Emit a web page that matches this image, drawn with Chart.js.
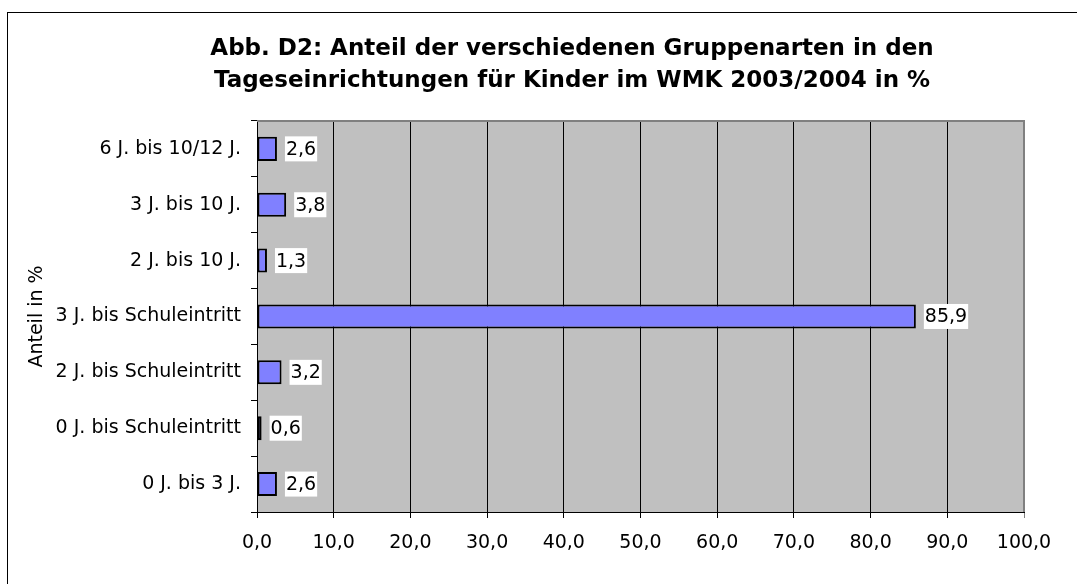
<!DOCTYPE html>
<html>
<head>
<meta charset="utf-8">
<script src="https://cdn.jsdelivr.net/npm/chart.js@4"></script>
<style>
  html, body { margin: 0; padding: 0; background: #fff; overflow: hidden; }
  #wrap { position: relative; width: 1077px; height: 584px; overflow: hidden; }
  #frame { position: absolute; left: 7px; top: 12px; width: 1200px; height: 700px;
           border-left: 1px solid #000; border-top: 1px solid #000; }
  #chart { position: absolute; left: 0; top: 0; }
</style>
</head>
<body>
<div id="wrap">
  <div id="frame"></div>
  <canvas id="chart" width="1144" height="584"></canvas>
</div>
<script>
// Gruppenarten (von oben nach unten wie im Diagramm)
const categories = [
  '6 J. bis 10/12 J.',
  '3 J. bis 10 J.',
  '2 J. bis 10 J.',
  '3 J. bis Schuleintritt',
  '2 J. bis Schuleintritt',
  '0 J. bis Schuleintritt',
  '0 J. bis 3 J.'
];
const shares = [2.6, 3.8, 1.3, 85.9, 3.2, 0.6, 2.6];
const xTicks = [0, 10, 20, 30, 40, 50, 60, 70, 80, 90, 100];

const titleLines = [
  'Abb. D2: Anteil der verschiedenen Gruppenarten in den',
  'Tageseinrichtungen für Kinder im WMK 2003/2004 in %'
];
const axisTitle = 'Anteil in %';

const FONT = 'DejaVu Sans';

function fmt(v) {
  return Number(v).toFixed(1).replace('.', ',');
}

// grauer Hintergrund der Zeichenfläche + Rahmen oben/rechts
const plotBackground = {
  id: 'plotBackground',
  beforeDraw(chart) {
    const { ctx, chartArea: a } = chart;
    ctx.save();
    ctx.fillStyle = '#c0c0c0';
    ctx.fillRect(a.left, a.top, a.right - a.left, a.bottom - a.top);
    ctx.restore();
  },
  afterDraw(chart) {
    const { ctx, chartArea: a } = chart;
    ctx.save();
    ctx.strokeStyle = '#808080';
    ctx.lineWidth = 2;
    ctx.beginPath();
    ctx.moveTo(a.left, a.top);
    ctx.lineTo(a.right, a.top);
    ctx.lineTo(a.right, a.bottom);
    ctx.stroke();
    ctx.restore();
  }
};

// Wertbeschriftungen in weißen Kästchen
const valueLabels = {
  id: 'valueLabels',
  afterDatasetsDraw(chart) {
    const { ctx } = chart;
    const meta = chart.getDatasetMeta(0);
    ctx.save();
    ctx.font = '19px "' + FONT + '"';
    ctx.textBaseline = 'middle';
    meta.data.forEach((bar, i) => {
      const text = fmt(chart.data.datasets[0].data[i]);
      const w = ctx.measureText(text).width;
      const x = bar.x + 8;
      ctx.fillStyle = '#ffffff';
      ctx.fillRect(x, bar.y - 12.5, w + 2, 25);
      ctx.fillStyle = '#000000';
      ctx.fillText(text, x + 1, bar.y + 1);
    });
    ctx.restore();
  }
};

new Chart(document.getElementById('chart'), {
  type: 'bar',
  data: {
    labels: categories,
    datasets: [{
      data: shares,
      backgroundColor: '#8080ff',
      borderColor: '#000000',
      borderWidth: 2,
      borderSkipped: false,
      categoryPercentage: 1,
      barPercentage: 0.43
    }]
  },
  options: {
    indexAxis: 'y',
    responsive: false,
    animation: false,
    layout: { padding: 0 },
    plugins: {
      legend: { display: false },
      tooltip: { enabled: false },
      title: {
        display: true,
        text: titleLines,
        color: '#000000',
        font: { family: FONT, size: 23, weight: 'bold', lineHeight: 1.39 },
        padding: { top: 33, bottom: 24 }
      }
    },
    scales: {
      x: {
        type: 'linear',
        min: 0,
        max: 100,
        afterBuildTicks: s => { s.ticks = xTicks.map(v => ({ value: v })); },
        ticks: {
          color: '#000000',
          padding: 14,
          font: { family: FONT, size: 19 },
          callback: v => fmt(v)
        },
        grid: {
          color: c => (c.tick && c.tick.value === 100 ? '#808080' : '#000000'),
          lineWidth: 1,
          tickLength: 6
        },
        border: { color: '#000000', width: 1 },
        afterFit: s => { s.height = 72; }
      },
      y: {
        ticks: {
          color: '#000000',
          padding: 10,
          font: { family: FONT, size: 19 }
        },
        grid: {
          drawOnChartArea: false,
          color: '#000000',
          tickLength: 6
        },
        border: { color: '#000000', width: 1 },
        title: {
          display: true,
          text: axisTitle,
          color: '#000000',
          font: { family: FONT, size: 19 },
          padding: { top: 26, bottom: 0 }
        },
        afterFit: s => { s.width = 257; }
      },
      // leerer Platz rechts, damit der Titel wie im Original sitzt
      right: {
        type: 'linear',
        position: 'right',
        display: true,
        ticks: { display: false },
        grid: { display: false },
        border: { display: false },
        afterFit: s => { s.width = 120; }
      }
    }
  },
  plugins: [plotBackground, valueLabels]
});
</script>
</body>
</html>
